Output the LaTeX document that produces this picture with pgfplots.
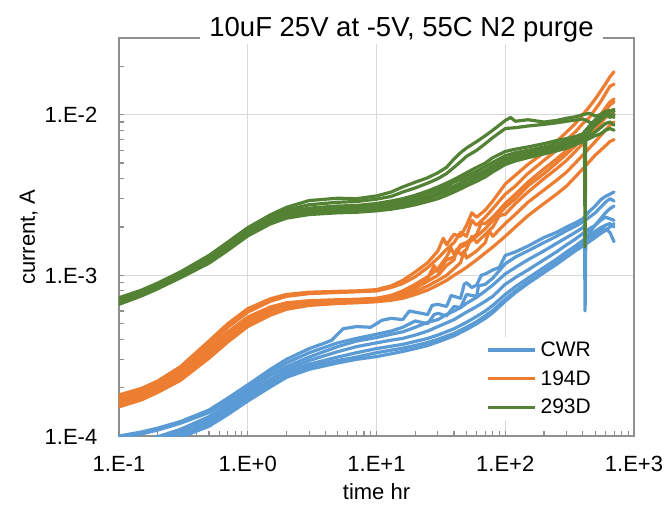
\documentclass[border=0pt]{standalone}
\usepackage{fontspec}
\setmainfont{Liberation Sans}
\usepackage{pgfplots}
\pgfplotsset{compat=1.18}
\definecolor{cwr}{HTML}{5B9BD5}
\definecolor{dd}{HTML}{ED7D31}
\definecolor{ee}{HTML}{548235}
\definecolor{gridc}{HTML}{D9D9D9}
\definecolor{axc}{HTML}{8F8F8F}
\pgfplotsset{
  sb/.style={draw=cwr, line width=3.2pt, line join=round, line cap=round, forget plot, no marks},
  so/.style={draw=dd, line width=3.2pt, line join=round, line cap=round, forget plot, no marks},
  sg/.style={draw=ee, line width=3.2pt, line join=round, line cap=round, forget plot, no marks},
}
\begin{document}
\begin{tikzpicture}
\useasboundingbox (-119pt,-72pt) rectangle (553pt,436pt);
\begin{axis}[
  at={(0pt,0pt)}, anchor=south west, scale only axis,
  width=515pt, height=398pt,
  xmode=log, ymode=log,
  xmin=0.1, xmax=1000, ymin=1e-4, ymax=3e-2,
  xtick={0.1,1,10,100,1000},
  xticklabels={1.E-1,1.E+0,1.E+1,1.E+2,1.E+3},
  ytick={1e-4,1e-3,1e-2},
  yticklabels={1.E-4,1.E-3,1.E-2},
  minor xtick={0.2,0.3,0.4,0.5,0.6,0.7,0.8,0.9,2,3,4,5,6,7,8,9,20,30,40,50,60,70,80,90,200,300,400,500,600,700,800,900},
  minor ytick={2e-4,3e-4,4e-4,5e-4,6e-4,7e-4,8e-4,9e-4,2e-3,3e-3,4e-3,5e-3,6e-3,7e-3,8e-3,9e-3,2e-2},
  grid=major,
  major grid style={line width=1.2pt, draw=gridc},
  axis line style={line width=1.2pt, draw=axc},
  tick align=inside, tick pos=left,
  major tick length=5pt, minor tick length=5pt,
  every tick/.style={line width=1.1pt, draw=axc},
  tick label style={font=\fontsize{22}{26}\selectfont, inner sep=0pt},
  xticklabel style={anchor=base, yshift=-35.5pt},
  yticklabel style={anchor=base east, xshift=-21.5pt, yshift=-8pt},
  legend style={at={(rel axis cs:0.7029,0.2495)}, anchor=north west, draw=none, fill=white,
    inner xsep=5pt, inner ysep=5pt, font=\fontsize{21}{25}\selectfont,
    nodes={inner sep=0pt}, row sep=12.5pt, column sep=4pt},
  legend cell align=left,
  legend image code/.code={\draw[#1, line cap=butt] (0pt,0pt) -- (47pt,0pt);},
]
\addlegendimage{draw=cwr, line width=3.4pt}
\addlegendentry{CWR}
\addlegendimage{draw=dd, line width=3.4pt}
\addlegendentry{194D}
\addlegendimage{draw=ee, line width=3.4pt}
\addlegendentry{293D}

% ---------------- CWR ----------------
\addplot[sb] coordinates {(0.1,1.0e-4) (0.15,1.06e-4) (0.2,1.12e-4) (0.3,1.23e-4) (0.5,1.45e-4) (0.7,1.72e-4) (1,2.08e-4) (1.5,2.6e-4) (2,3.0e-4) (3,3.5e-4) (4,3.8e-4) (4.5,3.95e-4) (5.5,4.65e-4) (7,4.8e-4) (9,4.75e-4) (10,5.0e-4) (11,5.25e-4) (13,5.4e-4) (16,5.3e-4) (18,6.0e-4) (20,5.9e-4) (25,5.7e-4) (27,6.5e-4) (30,6.6e-4) (35,6.4e-4) (38,7.5e-4) (40,7.4e-4) (45,7.2e-4) (48,8.8e-4) (50,9.0e-4) (55,8.4e-4) (60,8.7e-4) (65,1.0e-3) (70,1.02e-3) (80,1.08e-3) (90,1.12e-3) (100,1.33e-3) (120,1.4e-3) (150,1.52e-3) (200,1.72e-3) (250,1.85e-3) (300,2.0e-3) (350,2.12e-3) (400,2.25e-3) (450,2.5e-3) (500,2.7e-3) (550,2.95e-3) (600,3.1e-3) (650,3.2e-3) (700,3.3e-3)};
\addplot[sb] coordinates {(0.1,0.98e-4) (0.15,1.03e-4) (0.2,1.09e-4) (0.3,1.2e-4) (0.5,1.4e-4) (0.7,1.66e-4) (1,2.0e-4) (1.5,2.5e-4) (2,2.85e-4) (3,3.3e-4) (5,3.8e-4) (7,4.05e-4) (10,4.3e-4) (13,4.5e-4) (16,4.75e-4) (20,5.2e-4) (25,5.0e-4) (28,5.7e-4) (30,5.8e-4) (35,5.6e-4) (40,6.4e-4) (45,6.3e-4) (50,7.6e-4) (60,7.4e-4) (62,8.6e-4) (70,8.8e-4) (80,9.6e-4) (100,1.18e-3) (120,1.3e-3) (150,1.42e-3) (200,1.6e-3) (250,1.75e-3) (300,1.9e-3) (350,2.02e-3) (400,2.15e-3) (450,2.3e-3) (500,2.45e-3) (550,2.65e-3) (600,2.85e-3) (650,3.0e-3) (700,2.9e-3)};
\addplot[sb] coordinates {(0.15,0.92e-4) (0.2,0.99e-4) (0.3,1.1e-4) (0.5,1.32e-4) (0.7,1.58e-4) (1,1.92e-4) (1.5,2.38e-4) (2,2.7e-4) (3,3.1e-4) (5,3.6e-4) (7,3.9e-4) (10,4.1e-4) (13,4.3e-4) (16,4.45e-4) (20,4.75e-4) (25,5.1e-4) (30,5.3e-4) (35,5.7e-4) (40,6.0e-4) (45,6.3e-4) (50,6.7e-4) (60,7.3e-4) (70,8.0e-4) (80,8.7e-4) (100,1.02e-3) (120,1.12e-3) (150,1.25e-3) (200,1.42e-3) (250,1.58e-3) (300,1.72e-3) (350,1.85e-3) (400,1.98e-3) (412,2.05e-3) (417,6.0e-4) (422,1.7e-3) (450,1.85e-3) (500,2.05e-3) (550,2.25e-3) (600,2.45e-3) (650,2.6e-3) (700,2.7e-3)};
\addplot[sb] coordinates {(0.2,0.96e-4) (0.3,1.06e-4) (0.5,1.27e-4) (0.7,1.52e-4) (1,1.84e-4) (1.5,2.25e-4) (2,2.58e-4) (3,2.95e-4) (5,3.35e-4) (7,3.6e-4) (10,3.8e-4) (13,3.95e-4) (16,4.05e-4) (20,4.25e-4) (25,4.5e-4) (30,4.8e-4) (40,5.3e-4) (50,5.9e-4) (60,6.4e-4) (70,6.9e-4) (80,7.4e-4) (100,8.8e-4) (120,9.7e-4) (150,1.08e-3) (200,1.25e-3) (250,1.4e-3) (300,1.55e-3) (350,1.68e-3) (400,1.82e-3) (450,1.95e-3) (500,2.05e-3) (550,2.2e-3) (600,2.3e-3) (650,2.25e-3) (700,2.2e-3)};
\addplot[sb] coordinates {(0.2,0.94e-4) (0.3,1.03e-4) (0.5,1.22e-4) (0.7,1.46e-4) (1,1.76e-4) (1.5,2.15e-4) (2,2.48e-4) (3,2.8e-4) (5,3.1e-4) (7,3.3e-4) (10,3.5e-4) (13,3.62e-4) (16,3.72e-4) (20,3.88e-4) (25,4.05e-4) (30,4.25e-4) (40,4.65e-4) (50,5.1e-4) (60,5.55e-4) (70,6.0e-4) (80,6.5e-4) (100,7.6e-4) (120,8.5e-4) (150,9.6e-4) (200,1.12e-3) (250,1.26e-3) (300,1.4e-3) (350,1.52e-3) (400,1.65e-3) (450,1.78e-3) (500,1.88e-3) (550,1.98e-3) (600,2.05e-3) (650,2.1e-3) (700,2.0e-3)};
\addplot[sb] coordinates {(0.3,1.0e-4) (0.5,1.18e-4) (0.7,1.4e-4) (1,1.7e-4) (1.5,2.08e-4) (2,2.4e-4) (3,2.7e-4) (5,2.95e-4) (7,3.1e-4) (10,3.3e-4) (13,3.42e-4) (16,3.52e-4) (20,3.66e-4) (25,3.82e-4) (30,4.0e-4) (40,4.35e-4) (50,4.75e-4) (60,5.15e-4) (70,5.6e-4) (80,6.05e-4) (100,7.1e-4) (120,8.0e-4) (150,9.1e-4) (200,1.06e-3) (250,1.2e-3) (300,1.33e-3) (350,1.45e-3) (400,1.56e-3) (450,1.7e-3) (500,1.8e-3) (550,1.9e-3) (600,1.95e-3) (650,1.85e-3) (700,1.62e-3)};
\addplot[sb] coordinates {(0.3,0.98e-4) (0.5,1.15e-4) (0.7,1.36e-4) (1,1.65e-4) (1.5,2.02e-4) (2,2.32e-4) (3,2.6e-4) (5,2.85e-4) (7,3.0e-4) (10,3.12e-4) (13,3.25e-4) (16,3.36e-4) (20,3.5e-4) (25,3.66e-4) (30,3.85e-4) (40,4.2e-4) (50,4.6e-4) (60,5.0e-4) (70,5.4e-4) (80,5.85e-4) (100,6.9e-4) (120,7.8e-4) (150,8.9e-4) (200,1.04e-3) (250,1.17e-3) (300,1.3e-3) (350,1.42e-3) (400,1.52e-3) (450,1.62e-3) (500,1.72e-3) (550,1.82e-3) (600,1.9e-3) (650,2.0e-3) (700,2.1e-3)};

% ---------------- 194D ----------------
\addplot[so] coordinates {(0.1,1.8e-4) (0.15,1.98e-4) (0.2,2.2e-4) (0.3,2.7e-4) (0.5,3.9e-4) (0.7,5.0e-4) (1,6.2e-4) (1.5,7.15e-4) (2,7.6e-4) (3,7.85e-4) (5,7.95e-4) (7,8.0e-4) (10,8.15e-4) (13,8.6e-4) (16,9.3e-4) (20,1.05e-3) (25,1.2e-3) (30,1.42e-3) (33,1.7e-3) (35,1.55e-3) (40,1.8e-3) (45,1.75e-3) (50,2.05e-3) (55,2.45e-3) (60,2.3e-3) (70,2.55e-3) (80,2.9e-3) (100,3.7e-3) (120,4.2e-3) (150,4.9e-3) (200,5.8e-3) (250,6.8e-3) (300,7.8e-3) (350,8.8e-3) (400,1.0e-2) (450,1.12e-2) (500,1.25e-2) (550,1.4e-2) (600,1.55e-2) (650,1.72e-2) (700,1.85e-2)};
\addplot[so] coordinates {(0.1,1.72e-4) (0.15,1.9e-4) (0.2,2.12e-4) (0.3,2.6e-4) (0.5,3.7e-4) (0.7,4.75e-4) (1,5.9e-4) (1.5,6.9e-4) (2,7.4e-4) (3,7.7e-4) (5,7.82e-4) (7,7.9e-4) (10,8.0e-4) (13,8.4e-4) (16,8.9e-4) (20,9.8e-4) (25,1.12e-3) (30,1.28e-3) (35,1.45e-3) (40,1.6e-3) (45,1.85e-3) (50,1.75e-3) (55,2.2e-3) (60,2.05e-3) (70,2.3e-3) (80,2.6e-3) (100,3.2e-3) (120,3.6e-3) (150,4.3e-3) (200,5.2e-3) (250,6.0e-3) (300,7.0e-3) (350,7.8e-3) (400,8.8e-3) (450,9.6e-3) (500,1.08e-2) (550,1.2e-2) (600,1.35e-2) (650,1.5e-2) (700,1.55e-2)};
\addplot[so] coordinates {(0.1,1.68e-4) (0.15,1.85e-4) (0.2,2.05e-4) (0.3,2.48e-4) (0.5,3.5e-4) (0.7,4.45e-4) (1,5.5e-4) (1.5,6.35e-4) (2,6.75e-4) (3,6.95e-4) (5,7.05e-4) (7,7.1e-4) (10,7.2e-4) (13,7.5e-4) (16,8.0e-4) (20,8.8e-4) (25,9.8e-4) (30,1.1e-3) (35,1.3e-3) (38,1.48e-3) (40,1.35e-3) (45,1.55e-3) (50,1.6e-3) (60,1.8e-3) (65,2.1e-3) (70,2.1e-3) (80,2.3e-3) (100,2.8e-3) (120,3.2e-3) (150,3.8e-3) (200,4.6e-3) (250,5.3e-3) (300,6.0e-3) (350,6.8e-3) (400,7.6e-3) (450,8.4e-3) (500,9.2e-3) (550,1.0e-2) (600,1.1e-2) (650,1.2e-2) (700,1.25e-2)};
\addplot[so] coordinates {(0.1,1.62e-4) (0.15,1.78e-4) (0.2,1.98e-4) (0.3,2.38e-4) (0.5,3.35e-4) (0.7,4.25e-4) (1,5.25e-4) (1.5,6.1e-4) (2,6.55e-4) (3,6.8e-4) (5,6.9e-4) (7,6.95e-4) (10,7.05e-4) (13,7.3e-4) (16,7.7e-4) (20,8.3e-4) (25,9.2e-4) (30,1.0e-3) (35,1.15e-3) (40,1.25e-3) (42,1.45e-3) (45,1.35e-3) (50,1.45e-3) (55,1.75e-3) (60,1.6e-3) (70,1.8e-3) (80,2.0e-3) (90,2.35e-3) (100,2.4e-3) (120,2.8e-3) (150,3.3e-3) (200,4.0e-3) (250,4.6e-3) (300,5.2e-3) (350,5.9e-3) (400,6.6e-3) (450,7.3e-3) (500,8.0e-3) (550,8.8e-3) (600,9.6e-3) (650,1.0e-2) (700,1.05e-2)};
\addplot[so] coordinates {(0.1,1.58e-4) (0.15,1.73e-4) (0.2,1.92e-4) (0.3,2.3e-4) (0.5,3.2e-4) (0.7,4.05e-4) (1,5.0e-4) (1.5,5.85e-4) (2,6.35e-4) (3,6.65e-4) (5,6.8e-4) (7,6.85e-4) (10,6.95e-4) (13,7.15e-4) (16,7.45e-4) (20,7.9e-4) (25,8.6e-4) (30,9.3e-4) (35,1.0e-3) (40,1.1e-3) (45,1.2e-3) (48,1.42e-3) (50,1.28e-3) (60,1.42e-3) (70,1.6e-3) (75,1.9e-3) (80,1.75e-3) (100,2.1e-3) (120,2.4e-3) (150,2.85e-3) (200,3.4e-3) (250,3.9e-3) (300,4.4e-3) (350,5.0e-3) (400,5.6e-3) (450,6.2e-3) (500,6.8e-3) (550,7.4e-3) (600,8.0e-3) (650,8.6e-3) (700,9.0e-3)};
\addplot[so] coordinates {(0.1,1.52e-4) (0.15,1.68e-4) (0.2,1.87e-4) (0.3,2.22e-4) (0.5,3.05e-4) (0.7,3.85e-4) (1,4.8e-4) (1.5,5.65e-4) (2,6.15e-4) (3,6.5e-4) (5,6.68e-4) (7,6.75e-4) (10,6.85e-4) (13,7.0e-4) (16,7.2e-4) (20,7.6e-4) (25,8.1e-4) (30,8.7e-4) (35,9.3e-4) (40,1.0e-3) (45,1.06e-3) (50,1.12e-3) (60,1.25e-3) (70,1.38e-3) (80,1.5e-3) (100,1.75e-3) (120,2.0e-3) (150,2.35e-3) (200,2.8e-3) (250,3.2e-3) (300,3.6e-3) (350,4.1e-3) (400,4.6e-3) (450,5.1e-3) (500,5.6e-3) (550,6.0e-3) (600,6.4e-3) (650,6.8e-3) (700,7.0e-3)};
\addplot[so] coordinates {(0.1,1.65e-4) (0.15,1.81e-4) (0.2,2.0e-4) (0.3,2.42e-4) (0.5,3.4e-4) (0.7,4.3e-4) (1,5.35e-4) (1.5,6.2e-4) (2,6.6e-4) (3,6.85e-4) (5,6.95e-4) (7,7.0e-4) (10,7.1e-4) (13,7.3e-4) (16,7.9e-4) (20,8.6e-4) (25,9.6e-4) (28,1.15e-3) (30,1.05e-3) (35,1.25e-3) (40,1.3e-3) (45,1.5e-3) (50,1.55e-3) (60,1.75e-3) (70,1.95e-3) (80,2.2e-3) (100,2.65e-3) (120,3.0e-3) (150,3.6e-3) (200,4.3e-3) (250,5.0e-3) (300,5.7e-3) (350,6.4e-3) (400,7.2e-3) (450,8.0e-3) (500,8.8e-3) (550,9.6e-3) (600,1.05e-2) (650,1.15e-2) (700,1.2e-2)};

% ---------------- 293D ----------------
\addplot[sg] coordinates {(0.1,7.25e-4) (0.15,8.1e-4) (0.2,8.95e-4) (0.3,1.05e-3) (0.5,1.33e-3) (0.7,1.61e-3) (1,1.98e-3) (1.5,2.38e-3) (2,2.65e-3) (3,2.92e-3) (5,3.02e-3) (7,3.0e-3) (10,3.12e-3) (13,3.3e-3) (16,3.55e-3) (20,3.8e-3) (25,4.05e-3) (30,4.35e-3) (35,4.7e-3) (40,5.3e-3) (45,5.8e-3) (50,6.2e-3) (60,6.8e-3) (70,7.4e-3) (80,8.0e-3) (100,9.2e-3) (110,9.6e-3) (120,9.1e-3) (150,9.3e-3) (200,9.0e-3) (250,9.2e-3) (300,9.5e-3) (350,9.7e-3) (400,1.0e-2) (450,1.02e-2) (500,9.8e-3) (550,1.0e-2) (600,1.05e-2) (650,1.06e-2) (700,1.05e-2)};
\addplot[sg] coordinates {(0.1,7.1e-4) (0.15,7.95e-4) (0.2,8.8e-4) (0.3,1.03e-3) (0.5,1.3e-3) (0.7,1.57e-3) (1,1.93e-3) (1.5,2.32e-3) (2,2.55e-3) (3,2.75e-3) (5,2.85e-3) (7,2.88e-3) (10,2.98e-3) (13,3.1e-3) (16,3.3e-3) (20,3.5e-3) (25,3.75e-3) (30,4.0e-3) (35,4.3e-3) (40,4.7e-3) (45,5.1e-3) (50,5.5e-3) (60,6.0e-3) (70,6.6e-3) (80,7.2e-3) (100,8.2e-3) (120,8.3e-3) (150,8.5e-3) (200,8.7e-3) (250,8.9e-3) (300,9.1e-3) (400,9.4e-3) (450,9.0e-3) (500,8.6e-3) (550,9.2e-3) (600,9.8e-3) (700,1.0e-2)};
\addplot[sg] coordinates {(0.1,7.0e-4) (0.15,7.85e-4) (0.2,8.65e-4) (0.3,1.01e-3) (0.5,1.27e-3) (0.7,1.53e-3) (1,1.89e-3) (1.5,2.26e-3) (2,2.47e-3) (3,2.62e-3) (5,2.7e-3) (7,2.72e-3) (10,2.8e-3) (13,2.9e-3) (16,3.0e-3) (20,3.15e-3) (25,3.35e-3) (30,3.55e-3) (35,3.75e-3) (40,3.95e-3) (45,4.15e-3) (50,4.35e-3) (60,4.7e-3) (70,5.0e-3) (80,5.4e-3) (100,5.9e-3) (120,6.1e-3) (150,6.3e-3) (200,6.6e-3) (250,6.9e-3) (300,7.1e-3) (350,7.3e-3) (400,7.6e-3) (450,8.5e-3) (500,9.3e-3) (550,9.8e-3) (600,1.02e-2) (650,9.6e-3) (700,1.0e-2)};
\addplot[sg] coordinates {(0.1,6.9e-4) (0.15,7.75e-4) (0.2,8.55e-4) (0.3,0.995e-3) (0.5,1.25e-3) (0.7,1.5e-3) (1,1.85e-3) (1.5,2.21e-3) (2,2.41e-3) (3,2.55e-3) (5,2.63e-3) (7,2.65e-3) (10,2.72e-3) (13,2.8e-3) (16,2.9e-3) (20,3.05e-3) (25,3.25e-3) (30,3.4e-3) (35,3.6e-3) (40,3.8e-3) (45,3.95e-3) (50,4.15e-3) (60,4.45e-3) (70,4.75e-3) (80,5.05e-3) (100,5.55e-3) (120,5.8e-3) (150,6.0e-3) (200,6.3e-3) (250,6.6e-3) (300,6.8e-3) (350,7.0e-3) (400,7.2e-3) (450,7.8e-3) (500,8.6e-3) (550,9.4e-3) (600,9.9e-3) (650,1.0e-2) (700,9.6e-3)};
\addplot[sg] coordinates {(0.1,6.8e-4) (0.15,7.65e-4) (0.2,8.45e-4) (0.3,0.985e-3) (0.5,1.23e-3) (0.7,1.48e-3) (1,1.82e-3) (1.5,2.17e-3) (2,2.36e-3) (3,2.5e-3) (5,2.57e-3) (7,2.6e-3) (10,2.66e-3) (13,2.72e-3) (16,2.8e-3) (20,2.95e-3) (25,3.1e-3) (30,3.25e-3) (35,3.45e-3) (40,3.6e-3) (45,3.75e-3) (50,3.95e-3) (60,4.25e-3) (70,4.5e-3) (80,4.8e-3) (100,5.3e-3) (120,5.55e-3) (150,5.8e-3) (200,6.1e-3) (250,6.3e-3) (300,6.6e-3) (350,6.8e-3) (400,7.0e-3) (450,7.4e-3) (500,7.8e-3) (550,8.3e-3) (600,8.8e-3) (650,9.0e-3) (700,8.6e-3)};
\addplot[sg] coordinates {(0.1,6.7e-4) (0.15,7.55e-4) (0.2,8.35e-4) (0.3,0.975e-3) (0.5,1.21e-3) (0.7,1.45e-3) (1,1.79e-3) (1.5,2.13e-3) (2,2.32e-3) (3,2.45e-3) (5,2.51e-3) (7,2.53e-3) (10,2.6e-3) (13,2.66e-3) (16,2.72e-3) (20,2.85e-3) (25,3.0e-3) (30,3.15e-3) (35,3.3e-3) (40,3.45e-3) (45,3.6e-3) (50,3.75e-3) (60,4.05e-3) (70,4.3e-3) (80,4.6e-3) (100,5.1e-3) (120,5.35e-3) (150,5.6e-3) (200,5.9e-3) (250,6.1e-3) (300,6.4e-3) (350,6.6e-3) (400,7.2e-3) (412,7.4e-3) (417,1.5e-3) (422,7.8e-3) (450,8.4e-3) (500,9.0e-3) (550,9.5e-3) (600,1.0e-2) (650,1.05e-2) (700,1.08e-2)};
\addplot[sg] coordinates {(0.1,6.6e-4) (0.15,7.45e-4) (0.2,8.25e-4) (0.3,0.965e-3) (0.5,1.19e-3) (0.7,1.43e-3) (1,1.76e-3) (1.5,2.09e-3) (2,2.27e-3) (3,2.39e-3) (5,2.45e-3) (7,2.47e-3) (10,2.52e-3) (13,2.58e-3) (16,2.65e-3) (20,2.75e-3) (25,2.88e-3) (30,3.0e-3) (35,3.15e-3) (40,3.3e-3) (45,3.45e-3) (50,3.6e-3) (60,3.85e-3) (70,4.1e-3) (80,4.4e-3) (100,4.9e-3) (120,5.15e-3) (150,5.4e-3) (200,5.7e-3) (250,5.95e-3) (300,6.2e-3) (350,6.5e-3) (400,6.8e-3) (450,7.1e-3) (500,7.4e-3) (550,7.6e-3) (600,8.0e-3) (650,8.2e-3) (700,8.0e-3)};
\end{axis}
\node[font=\fontsize{27.5}{32}\selectfont, fill=white, inner xsep=9pt, inner ysep=1pt, anchor=base] at (282.5pt,399pt) {10uF 25V at -5V, 55C N2 purge};
\node[font=\fontsize{22}{26}\selectfont, rotate=90, anchor=base, inner sep=0pt] at (-84pt,199pt) {current, A};
\node[font=\fontsize{22}{26}\selectfont, anchor=base, inner sep=0pt] at (257.5pt,-64pt) {time hr};
\end{tikzpicture}
\end{document}
